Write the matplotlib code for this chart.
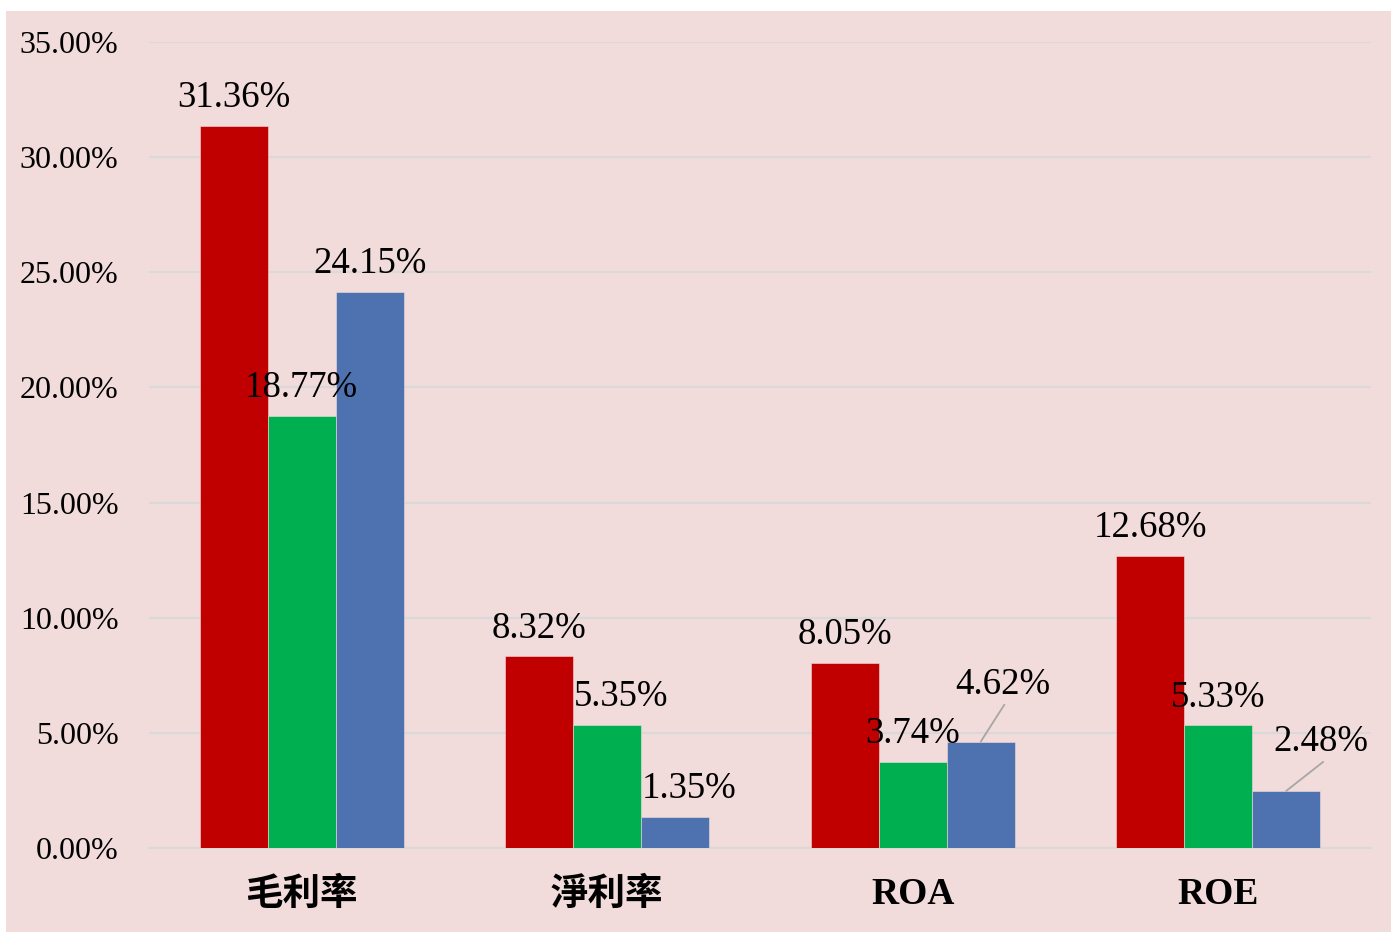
import matplotlib
matplotlib.use("Agg")
import matplotlib.pyplot as plt
from matplotlib.patches import Rectangle
import numpy as np

categories = ["毛利率", "淨利率", "ROA", "ROE"]
series_red = [31.36, 8.32, 8.05, 12.68]
series_green = [18.77, 5.35, 3.74, 5.33]
series_blue = [24.15, 1.35, 4.62, 2.48]
yticks = [0, 5, 10, 15, 20, 25, 30, 35]

W, H = 1391, 932
fig = plt.figure(figsize=(W / 100, H / 100), dpi=100)
fig.patch.set_facecolor("white")
fig.patches.append(Rectangle((6 / W, 0), 1 - 6 / W, (H - 11) / H, transform=fig.transFigure,
                             facecolor="#F2DCDB", edgecolor="none", zorder=-10))

ax = fig.add_axes([149 / W, (H - 848) / H, (1371 - 149) / W, (848 - 42) / H])
ax.set_zorder(5)
ax.set_facecolor("none")

serif = ["Liberation Serif", "DejaVu Serif"]
cjk = ["Liberation Serif", "Noto Sans CJK TC", "DejaVu Sans"]

x = np.arange(len(categories))
bw = 68 / 305.5
colors = ["#C00000", "#00B050", "#4E71AF"]
all_series = [series_red, series_green, series_blue]
offsets = [-bw, 0, bw]

label_dx = {(1, 1): 10, (1, 2): 10}
# (label dx, label dy, line-start dx, line-start dy) in points
leader = {(2, 2): (16, 41, 17, 26.6), (3, 2): (25, 35.5, 26.6, 20.9)}

for s, (vals, col, off) in enumerate(zip(all_series, colors, offsets)):
    ax.bar(x + off, vals, width=bw, color=col, edgecolor="#F2DCDB", linewidth=0.4, zorder=3)
    for i, v in enumerate(vals):
        bx = x[i] + off
        if (i, s) in leader:
            dx, dy, lx, ly = leader[(i, s)]
            ax.annotate(f"{v:.2f}%", xy=(bx, v), xytext=(dx, dy), textcoords="offset points",
                        ha="center", va="center", fontsize=26.5, family=serif, zorder=5,
                        annotation_clip=False)
            ax.annotate("", xy=(bx, v), xytext=(lx, ly), textcoords="offset points",
                        arrowprops=dict(arrowstyle="-", color="#A6A6A6", lw=1.3, shrinkA=0, shrinkB=0),
                        zorder=4)
        else:
            dx = label_dx.get((i, s), 0)
            ax.annotate(f"{v:.2f}%", xy=(bx, v), xytext=(dx, 20), textcoords="offset points",
                        ha="center", va="center", fontsize=26.5, family=serif, zorder=5,
                        annotation_clip=False)

ax.set_xlim(-0.5, 3.5)
ax.set_ylim(0, 35)
ax.set_yticks(yticks)
ax.set_yticklabels([f"{t:.2f}%" for t in yticks], fontsize=23, family=serif)
ax.set_xticks(x)
ax.set_xticklabels(categories, fontsize=27, fontweight="bold", family=cjk)
ax.tick_params(axis="y", length=0, pad=22)
ax.tick_params(axis="x", length=0, pad=21)
ax.grid(axis="y", color="#D9D9D9", linewidth=1.5, zorder=0)
ax.set_axisbelow(True)
for sp in ["top", "right", "left"]:
    ax.spines[sp].set_visible(False)
ax.spines["bottom"].set_color("#D9D9D9")
ax.spines["bottom"].set_linewidth(1.5)
ax.spines["bottom"].set_zorder(1)

fig.savefig("out.png", dpi=100)
